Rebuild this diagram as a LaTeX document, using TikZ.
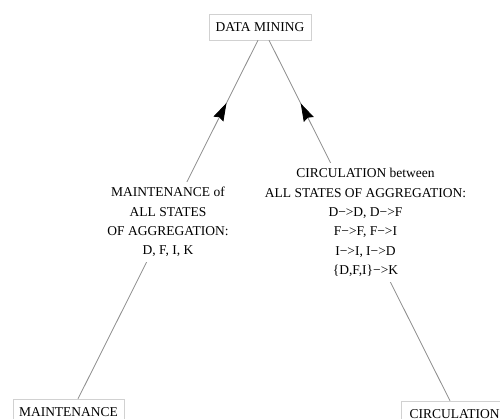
\documentclass[tikz,border=0pt]{standalone}
\usepackage{fontspec}
\setmainfont{Liberation Serif}
\usetikzlibrary{arrows.meta,decorations.markings}
\definecolor{framegray}{gray}{0.82}
\definecolor{edgegray}{gray}{0.55}
\tikzstyle{boxed} = [draw=framegray, fill=white, rectangle,
minimum height=26pt, inner xsep=6pt, font=\fontsize{13.5}{16}\selectfont]
\tikzstyle{edgetext} = [fill=white, align=center, inner sep=5pt,
font=\fontsize{13.5}{19.4}\selectfont]
\tikzstyle{flow} = [draw=edgegray, line width=0.8pt, postaction={decorate},
decoration={markings, mark=at position 0.825 with {\arrow{Stealth[length=18pt,width=11pt,inset=2pt,color=black]}}}]

\begin{document}
\begin{tikzpicture}[x=1pt, y=-1pt]
	\useasboundingbox (0,0) rectangle (500,419);
	\node [boxed, minimum width=102pt] (Mining) at (260,27) {DATA MINING};
	\node [boxed, minimum width=111pt] (Maint) at (68.5,412) {MAINTENANCE};
	\node [boxed, minimum width=107pt] (Circ) at (454.5,414) {CIRCULATION};
	
	\draw [flow] ([xshift=9.5pt]Maint.north) -- node [edgetext, yshift=-2.5pt] (MaintText)
		{MAINTENANCE of\\ALL STATES\\OF AGGREGATION:\\D, F, I, K} ([xshift=-2pt]Mining.south);
	\draw [flow] ([xshift=-4.5pt]Circ.north) -- node [edgetext, xshift=6pt, yshift=-2pt] (CircText)
		{CIRCULATION between\\ALL STATES OF AGGREGATION:\\D−>D, D−>F\\F−>F, F−>I\\I−>I, I−>D\\\{D,F,I\}−>K} ([xshift=9pt]Mining.south);
	
\end{tikzpicture}
\end{document}
